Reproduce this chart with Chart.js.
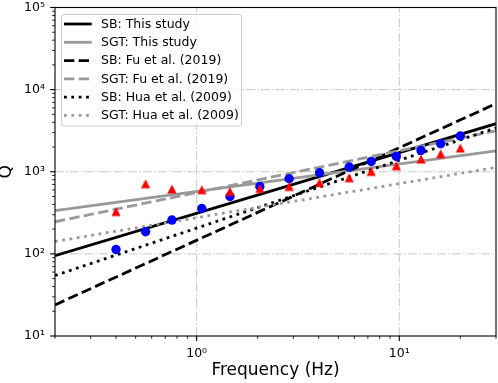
<!DOCTYPE html>
<html><head><meta charset="utf-8">
<script src="https://cdn.jsdelivr.net/npm/chart.js@4.4.0/dist/chart.umd.min.js"></script>
<style>html,body{margin:0;padding:0;background:#fff;overflow:hidden}#wrap{width:498px;height:383px;position:relative}</style>
</head><body><div id="wrap"><canvas id="c"></canvas></div>
<script>
// Observations
const freqs = [0.4, 0.56, 0.755, 1.06, 1.46, 2.05, 2.86, 4.04, 5.66, 7.27, 9.67, 12.8, 16.0, 20.0];
const qSB   = [113, 186, 258, 357, 500, 662, 822, 972, 1141, 1335, 1536, 1816, 2193, 2722];
const qSGT  = [328, 714, 616, 604, 575, 626, 662, 741, 845, 1009, 1183, 1428, 1656, 1944];
// Model lines (values at the frequency-range ends)
const lineFreqs = [0.2, 30];
const sbThisStudy  = [95, 3850];
const sgtThisStudy = [337, 1800];
const sbFu2019     = [23.9, 6750];
const sgtFu2019    = [246, 3150];
const sbHua2009    = [54.5, 3420];
const sgtHua2009   = [141.6, 1130];
const seriesNames = ['SB: This study','SGT: This study','SB: Fu et al. (2019)','SGT: Fu et al. (2019)','SB: Hua et al. (2009)','SGT: Hua et al. (2009)'];
// Ticks
const xTickVals = [0.2,0.3,0.4,0.5,0.6,0.7,0.8,0.9,1,2,3,4,5,6,7,8,9,10,20,30];
const yTickVals = [10,20,30,40,50,60,70,80,90,100,200,300,400,500,600,700,800,900,1000,2000,3000,4000,5000,6000,7000,8000,9000,10000,20000,30000,40000,50000,60000,70000,80000,90000,100000];
const xMajor = {1:'10\u2070', 10:'10\u00b9'};
const yMajor = {10:'10\u00b9',100:'10\u00b2',1000:'10\u00b3',10000:'10\u2074',100000:'10\u2075'};

const FONT = '"DejaVu Sans", sans-serif';
const GRAY = '#999999';
const styles = [
  {color:'#000', dash:[]},
  {color:GRAY, dash:[]},
  {color:'#000', dash:[10.3,4.4]},
  {color:GRAY, dash:[10.3,4.4]},
  {color:'#000', dash:[2.78,4.58]},
  {color:GRAY, dash:[2.78,4.58]}
];
const lineVals = [sbThisStudy, sgtThisStudy, sbFu2019, sgtFu2019, sbHua2009, sgtHua2009];

// triangle marker like matplotlib '^'
const tri = document.createElement('canvas');
tri.width = 12; tri.height = 12;
{ const t = tri.getContext('2d'); t.fillStyle = '#ff0000';
  t.beginPath(); t.moveTo(6,1.4); t.lineTo(1.4,10.6); t.lineTo(10.6,10.6); t.closePath(); t.fill(); }

const datasets = [
  {label:'SGT data', data: freqs.map((f,i)=>({x:f,y:qSGT[i]})), showLine:false, pointStyle: tri, pointRadius:6, order:0},
  {label:'SB data', data: freqs.map((f,i)=>({x:f,y:qSB[i]})), showLine:false, pointStyle:'circle', pointRadius:4.7, backgroundColor:'#0000ff', borderWidth:0, order:1}
];
lineVals.forEach((v,k)=>{
  datasets.push({label: seriesNames[k], data: lineFreqs.map((f,i)=>({x:f,y:v[i]})), showLine:true, pointRadius:0,
    borderColor: styles[k].color, borderWidth:2.8, borderDash: styles[k].dash, borderCapStyle:'butt', order: 10 - k});
});

const frame = {
  id:'frame',
  beforeDatasetsDraw(chart){
    const {ctx, chartArea:a, scales:{x,y}} = chart;
    ctx.save();
    ctx.strokeStyle = '#c8c8c8'; ctx.lineWidth = 1; ctx.setLineDash([8.9,2.2,1.4,2.2]);
    [1,10].forEach(v=>{ const p = x.getPixelForValue(v); ctx.beginPath(); ctx.moveTo(p,a.bottom); ctx.lineTo(p,a.top); ctx.stroke(); });
    [100,1000,10000].forEach(v=>{ const p = y.getPixelForValue(v); ctx.beginPath(); ctx.moveTo(a.left,p); ctx.lineTo(a.right,p); ctx.stroke(); });
    ctx.restore();
  },
  afterDatasetsDraw(chart){
    const {ctx, chartArea:a, scales:{x,y}} = chart;
    ctx.save();
    ctx.strokeStyle = '#000'; ctx.setLineDash([]);
    xTickVals.forEach(v=>{ const p = x.getPixelForValue(v); const maj = v in xMajor;
      ctx.lineWidth = maj ? 1.1 : 0.85; ctx.beginPath(); ctx.moveTo(p,a.bottom); ctx.lineTo(p,a.bottom + (maj?4.9:2.8)); ctx.stroke(); });
    yTickVals.forEach(v=>{ const p = y.getPixelForValue(v); const maj = v in yMajor;
      ctx.lineWidth = maj ? 1.1 : 0.85; ctx.beginPath(); ctx.moveTo(a.left,p); ctx.lineTo(a.left - (maj?4.9:2.8),p); ctx.stroke(); });
    ctx.lineWidth = 1.1;
    ctx.strokeRect(a.left, a.top, a.right - a.left, a.bottom - a.top);
    // legend
    const bx = a.left + 6.5, by = a.top + 7, bw = 180, bh = 111.5, r = 2.5;
    ctx.beginPath();
    ctx.moveTo(bx+r,by); ctx.lineTo(bx+bw-r,by); ctx.arcTo(bx+bw,by,bx+bw,by+r,r);
    ctx.lineTo(bx+bw,by+bh-r); ctx.arcTo(bx+bw,by+bh,bx+bw-r,by+bh,r);
    ctx.lineTo(bx+r,by+bh); ctx.arcTo(bx,by+bh,bx,by+bh-r,r);
    ctx.lineTo(bx,by+r); ctx.arcTo(bx,by,bx+r,by,r); ctx.closePath();
    ctx.fillStyle = 'rgba(255,255,255,0.8)'; ctx.fill();
    ctx.strokeStyle = '#cccccc'; ctx.lineWidth = 1; ctx.stroke();
    ctx.font = '12.5px ' + FONT; ctx.textBaseline = 'middle'; ctx.textAlign = 'left';
    seriesNames.forEach((name,k)=>{
      const yy = by + 9.5 + k*18.27;
      ctx.strokeStyle = styles[k].color; ctx.lineWidth = 2.8; ctx.lineCap = 'butt'; ctx.setLineDash(styles[k].dash);
      ctx.beginPath(); ctx.moveTo(bx+2.5, yy); ctx.lineTo(bx+30.2, yy); ctx.stroke();
      ctx.setLineDash([]);
      ctx.fillStyle = '#000'; ctx.fillText(name, bx + 39.5, yy + 0.5);
    });
    ctx.restore();
  }
};

const noPad = (s)=>{ s.paddingTop = 0; s.paddingBottom = 0; s.paddingLeft = 0; s.paddingRight = 0; };

const chart = new Chart(document.getElementById('c'), {
  type:'scatter',
  data:{datasets},
  options:{
    responsive:true, maintainAspectRatio:false, animation:false,
    layout:{padding:{top:7.5, right:2, left:0, bottom:0}},
    plugins:{legend:{display:false}, tooltip:{enabled:false}},
    scales:{
      x:{type:'logarithmic', position:'bottom', min:0.2, max:30,
        afterBuildTicks:(s)=>{ s.ticks = xTickVals.map(v=>({value:v})); },
        afterFit:(s)=>{ s.height = 47; noPad(s); },
        grid:{display:false, drawTicks:false}, border:{display:false},
        ticks:{autoSkip:false, maxRotation:0, minRotation:0, padding:10, color:'#000', font:{family:FONT, size:12.5},
          callback:(v)=> xMajor[v] || ''},
        title:{display:true, text:'Frequency (Hz)', color:'#000', font:{family:FONT, size:17, lineHeight:1}, padding:{top:0,bottom:3.5}}
      },
      y:{type:'logarithmic', position:'left', min:10, max:100000,
        afterBuildTicks:(s)=>{ s.ticks = yTickVals.map(v=>({value:v})); },
        afterFit:(s)=>{ s.width = 55; noPad(s); },
        grid:{display:false, drawTicks:false}, border:{display:false},
        ticks:{autoSkip:false, padding:10, color:'#000', font:{family:FONT, size:12.5},
          callback:(v)=> yMajor[v] || ''},
        title:{display:true, text:'Q', color:'#000', font:{family:FONT, size:17, lineHeight:1}, padding:{top:-1.5,bottom:0}}
      }
    }
  },
  plugins:[frame]
});
// keep the plot frame's right edge where the reference has it
const extra = Math.round(496 - chart.chartArea.right);
if (extra !== 0) {
  document.getElementById('wrap').style.width = (498 + extra) + 'px';
  chart.resize();
}
</script></body></html>
